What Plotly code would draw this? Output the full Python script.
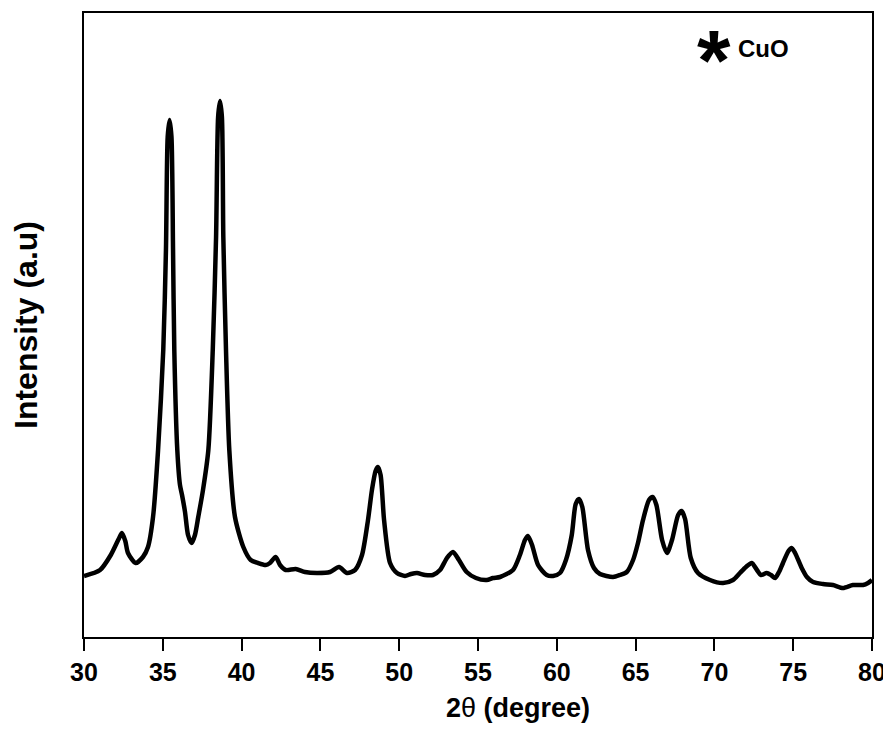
import plotly.graph_objects as go

# 2-theta positions (degree) and intensity (a.u.)
two_theta = [30.00, 31.02, 31.70, 32.20, 32.41, 32.62, 32.79, 33.28, 33.74, 34.06, 34.38, 34.70,
             35.03, 35.20, 35.31, 35.43, 35.55, 35.65, 35.73, 35.92, 36.09, 36.22,
             36.41, 36.60, 36.83, 37.04, 37.25, 37.55, 37.89, 38.17, 38.38, 38.51,
             38.63, 38.75, 38.84, 39.01, 39.22, 39.58, 40.11, 40.58, 41.04, 41.53,
             41.80, 42.16, 42.44, 42.80, 43.43, 44.02, 44.78, 45.61, 46.18, 46.69,
             47.20, 47.64, 48.02, 48.27, 48.50, 48.65, 48.82, 49.04, 49.42, 49.86,
             50.37, 50.75, 51.13, 51.64, 52.14, 52.59, 53.03, 53.41, 53.79, 54.28,
             54.87, 55.55, 55.95, 56.40, 57.22, 57.66, 57.98, 58.17, 58.43, 58.81,
             59.36, 59.76, 60.20, 60.58, 60.95, 61.20, 61.41, 61.62, 61.98, 62.36,
             62.74, 63.57, 64.01, 64.44, 64.84, 65.15, 65.47, 65.85, 66.08, 66.32,
             66.68, 66.99, 67.31, 67.70, 67.92, 68.14, 68.50, 68.96, 69.72, 70.55,
             71.18, 71.62, 72.00, 72.37, 72.70, 72.96, 73.32, 73.59, 73.85, 74.10,
             74.35, 74.70, 74.90, 75.12, 75.54, 75.87, 76.26, 76.89, 77.52, 78.16,
             78.79, 79.43, 79.75, 80.00]
intensity = [61, 67, 82, 98, 104, 96, 84, 74, 80, 90, 120, 187,
             287, 387, 500, 517, 500, 387, 287, 187, 152, 142,
             125, 102, 94, 102, 120, 147, 187, 287, 400, 520,
             536, 520, 400, 287, 187, 120, 90, 77, 74, 72,
             74, 80, 72, 67, 68, 65, 64, 65, 70, 64,
             67, 82, 117, 147, 166, 170, 162, 117, 74, 64,
             61, 63, 64, 62, 62, 67, 79, 85, 77, 65,
             59, 57, 59, 60, 67, 82, 97, 101, 92, 72,
             62, 61, 64, 77, 102, 133, 138, 130, 87, 69,
             63, 60, 62, 65, 77, 94, 117, 137, 140, 132,
             97, 84, 97, 122, 126, 118, 79, 64, 57, 54,
             57, 64, 70, 74, 67, 62, 64, 62, 59, 65,
             74, 86, 89, 84, 69, 60, 55, 53, 52, 49,
             52, 52, 54, 57]

x_ticks = [30, 35, 40, 45, 50, 55, 60, 65, 70, 75, 80]

FONT = "Liberation Sans, Arial, sans-serif"

# page body has an 8px default margin, so the figure is placed at (8, 8)
OFF = 8
PL, PR, PT, PB = 84, 872, 13, 637   # plot area in window pixels
W, H = 891 - OFF, 729 - OFF
W_PLOT = PR - PL
H_PLOT = PB - PT


def px_x(x):
    return (x - PL) / W_PLOT


def px_y(y):
    return (PB - y) / H_PLOT


fig = go.Figure()
fig.add_trace(go.Scatter(
    x=two_theta, y=intensity, mode="lines",
    line=dict(color="black", width=4.5, shape="spline", smoothing=0.7),
    showlegend=False, hoverinfo="skip"))

fig.update_layout(
    width=W, height=H,
    margin=dict(l=PL - OFF, r=891 - PR, t=PT - OFF, b=H - (PB - OFF), autoexpand=False),
    paper_bgcolor="white", plot_bgcolor="white",
    font=dict(family=FONT, color="black"),
    annotations=[
        dict(x=px_x(714), y=px_y(11), xref="paper", yref="paper", text="<b>*</b>",
             showarrow=False, font=dict(size=86, family=FONT, color="black"),
             xanchor="center", yanchor="top", borderpad=0),
        dict(x=px_x(736), y=px_y(48), xref="paper", yref="paper", text="<b>CuO</b>",
             showarrow=False, font=dict(size=24, family=FONT, color="black"),
             xanchor="left", yanchor="middle"),
        dict(x=px_x(518), y=px_y(708), xref="paper", yref="paper",
             text="<b>2</b>θ <b>(degree)</b>",
             showarrow=False, font=dict(size=27, family=FONT, color="black"),
             xanchor="center", yanchor="middle"),
    ],
)

fig.update_xaxes(
    range=[30, 80], tickvals=x_ticks, ticktext=[str(v) for v in x_ticks],
    ticks="outside", ticklen=12, tickwidth=2, tickcolor="black",
    showline=True, linewidth=2, linecolor="black", mirror=True,
    showgrid=False, zeroline=False, automargin=False,
    tickfont=dict(size=25, family=FONT, weight="bold"),
)
fig.update_yaxes(
    range=[0, 624], showticklabels=False, ticks="",
    showline=True, linewidth=2, linecolor="black", mirror=True,
    showgrid=False, zeroline=False, automargin=False,
    title=dict(text="<b>Intensity (a.u)</b>", font=dict(size=32, family=FONT), standoff=36),
)

fig.write_html("out.html")
